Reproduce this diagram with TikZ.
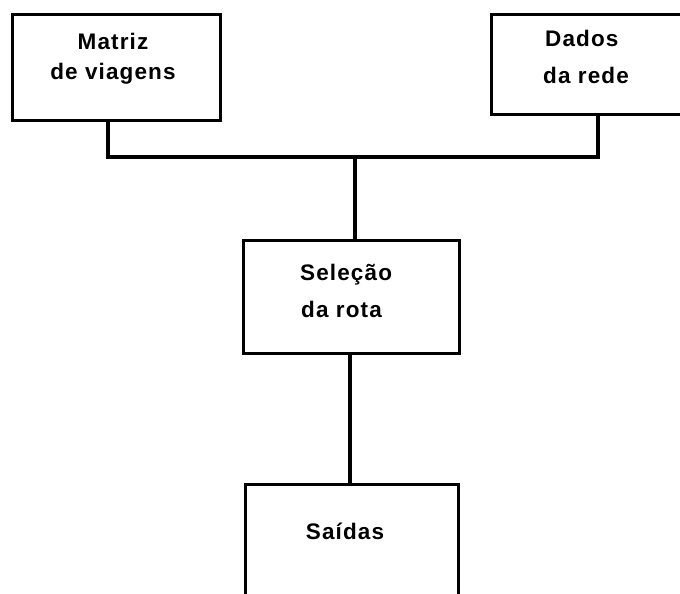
\documentclass[tikz,border=0pt]{standalone}
\usepackage{fontspec}
\setmainfont{Liberation Sans}[LetterSpace=5]
\begin{document}
\begin{tikzpicture}[x=1pt,y=-1pt,
  edge/.style={line width=3.1pt,line join=miter},
  boxarea/.style={rectangle,inner sep=0pt,minimum width=#1},
  lbl/.style={font=\fontsize{22.5}{36}\selectfont\bfseries,align=left,inner sep=0pt}]
\useasboundingbox (0,0) rectangle (680,594);
% box areas
\node[boxarea, minimum width=207pt, minimum height=105pt] (b1) at (116.5,67.5) {};
\node[boxarea, minimum width=200pt, minimum height=99pt] (b2) at (592,64.5) {};
\node[boxarea, minimum width=215pt, minimum height=112pt] (b3) at (351.5,297) {};
\node[boxarea, minimum width=212pt, minimum height=120pt] (b4) at (352,545) {};
% box outlines
\draw[edge] (b1.south west) rectangle (b1.north east);
\draw[edge] (b2.north east) -- (b2.north west) -- (b2.south west) -- (b2.south east);
\draw[edge] (b3.south west) rectangle (b3.north east);
\draw[edge] (b4.south west) -- (b4.north west) -- (b4.north east) -- (b4.south east);
% texts
\node[lbl,anchor=base] (t1a) at (113,49) {Matriz};
\node[lbl,anchor=base] (t1b) at (113,79) {de viagens};
\node[lbl,anchor=base west] (t2a) at (545,47) {Dados};
\node[lbl,anchor=base west] (t2b) at (543,83) {da rede};
\node[lbl,anchor=base west] (t3a) at (300,280) {Seleção};
\node[lbl,anchor=base west] (t3b) at (301,317) {da rota};
\node[lbl,anchor=base] (t4) at (345,539) {Saídas};
% connectors
\coordinate (j1) at (108,157);
\coordinate (j2) at (598,157);
\coordinate (jm) at (355,157);
\coordinate (jl) at (350,420);
\draw[edge] (b1.south -| j1) -- (j1) -- (j2) -- (b2.south -| j2);
\draw[edge] (jm) -- (b3.north -| jm);
\draw[edge] (b3.south -| jl) -- (b4.north -| jl);
\end{tikzpicture}
\end{document}
